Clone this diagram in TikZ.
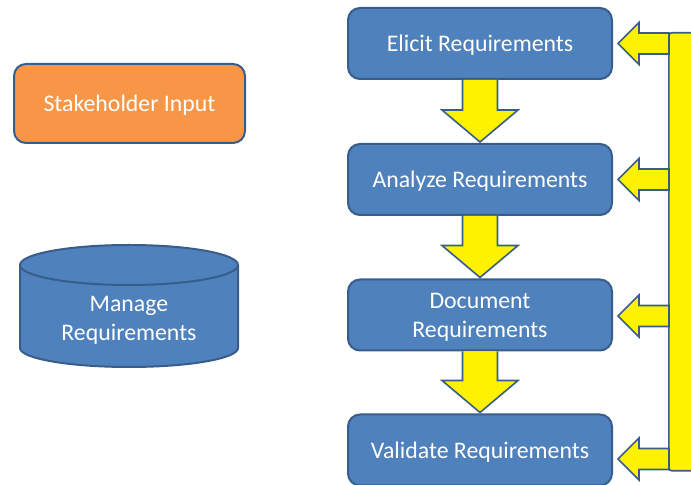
\documentclass[tikz,border=0pt]{standalone}
\usepackage{fontspec}
\setmainfont{Carlito}
\usetikzlibrary{calc}
\definecolor{boxblue}{HTML}{4F81BD}
\definecolor{boxline}{HTML}{385D8A}
\definecolor{inputorange}{HTML}{F79646}

\tikzset{
  stepbox/.style={draw=boxline, line width=1pt, fill=boxblue, rounded corners=6pt,
    minimum width=132pt, minimum height=35.5pt, text=white,
    font=\fontsize{11.9}{14.5}\selectfont, align=center, text depth=0pt},
  blockarrow/.style={draw=boxline, line width=0.8pt, fill=yellow, line join=miter},
}

\begin{document}
\begin{tikzpicture}[x=0.5pt, y=-0.5pt]
    \useasboundingbox (0,0) rectangle (691,485);
    % feedback bar on the right
    \node[blockarrow, rounded corners=1.5pt, minimum width=24pt, minimum height=219pt,
      anchor=north west, inner sep=0pt] (loop) at (668,32) {};
    % process steps
    \node[stepbox] (elicit) at (480,43.5) {Elicit Requirements};
    \node[stepbox] (analyze) at (480,179.5) {Analyze Requirements};
    \node[stepbox] (document) at (480,315) {Document\\Requirements};
    \node[stepbox] (validate) at (480,450) {Validate Requirements};
    \node[stepbox, fill=inputorange, minimum width=115.5pt, minimum height=39.5pt]
      (input) at (129.5,103.5) {Stakeholder Input};
    % cylinder
    \fill[boxblue] (20,265) -- (20,348)
      arc[start angle=180, end angle=360, x radius=54.5pt, y radius=9.5pt] -- (238,265) -- cycle;
    \draw[boxline, line width=1pt] (20,265) -- (20,348)
      arc[start angle=180, end angle=360, x radius=54.5pt, y radius=9.5pt] -- (238,265);
    \filldraw[fill=boxblue, draw=boxline, line width=1pt] (129,265) ellipse [x radius=54.5pt, y radius=10pt];
    \node[text=white, align=center, font=\fontsize{11.9}{14.5}\selectfont, text depth=0pt]
      (manage) at (129,318) {Manage\\Requirements};
    % arrows down
    \foreach \a/\b in {elicit/analyze, analyze/document, document/validate} {
      \draw[blockarrow]
      ($(\a.south)+(-17.5,0)$) --
      ($(\b.north)+(-17.5,-33)$) --
      ($(\b.north)+(-38,-33)$) --
      ($(\b.north)+(0,-1)$) --
      ($(\b.north)+(38,-33)$) --
      ($(\b.north)+(17.5,-33)$) --
      ($(\a.south)+(17.5,0)$);
    }
    % arrows back from the bar
    \foreach \b/\dy in {elicit/0, analyze/0, document/1, validate/9} {
      \draw[blockarrow]
      ($(\b.east)+(5,\dy)$) --
      ($(\b.east)+(26,\dy-21)$) --
      ($(\b.east)+(26,\dy-10.5)$) --
      ($(\b.east)+(56,\dy-10.5)$) --
      ($(\b.east)+(56,\dy+10.5)$) --
      ($(\b.east)+(26,\dy+10.5)$) --
      ($(\b.east)+(26,\dy+21)$) -- cycle;
    }
\end{tikzpicture}
\end{document}
